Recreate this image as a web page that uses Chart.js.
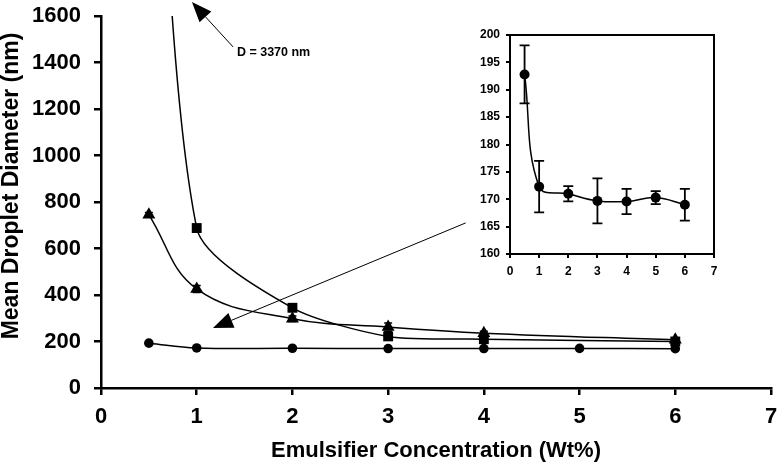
<!DOCTYPE html>
<html>
<head>
<meta charset="utf-8">
<script src="https://cdn.jsdelivr.net/npm/chart.js@4.4.0/dist/chart.umd.min.js"></script>
<style>
  html, body { margin: 0; padding: 0; background: #fff; }
  #wrap { position: relative; width: 779px; height: 464px; }
  #main { position: absolute; left: 0; top: 0; }
  #inset { position: absolute; left: 455px; top: 20px; }
</style>
</head>
<body>
<div id="wrap">
  <canvas id="main" width="779" height="464"></canvas>
  <canvas id="inset" width="280" height="270"></canvas>
</div>
<script>
// ============================================
// Mean droplet diameter vs emulsifier concentration
// main plot + zoomed inset for the lowest series
// ============================================

const FONT = "'Liberation Sans', Arial, sans-serif";

// concentrations (Wt%)
const concAll = [0.5, 1, 2, 3, 4, 5, 6];
const concMain = [0.5, 1, 2, 3, 4, 6];

// circles (also shown in the inset)
const circleSize = [192.8, 172.3, 171.0, 169.7, 169.6, 170.3, 169.0];
const circleErr = [5.3, 4.7, 1.4, 4.1, 2.3, 1.2, 2.9];

// squares (first point is 3370 nm, off the scale)
const squareSize = [3370, 688, 345, 222, 210, 200];
const squareErr = [0, 12, 12, 10, 6, 6];

// triangles
const triangleSize = [745, 426, 298, 262, 236, 207];
const triangleErr = [10, 15, 12, 18, 8, 8];

// tick values
const mainXTicks = [0, 1, 2, 3, 4, 5, 6, 7];
const mainYTicks = [0, 200, 400, 600, 800, 1000, 1200, 1400, 1600];
const insetYTicks = [160, 165, 170, 175, 180, 185, 190, 195, 200];

const xTitle = 'Emulsifier Concentration (Wt%)';
const yTitle = 'Mean Droplet Diameter (nm)';

// annotation arrows (data units of the main plot)
const arrows = [
  { from: [1.38, 1467], to: [0.95, 1660] },
  { from: [3.81, 710], to: [1.17, 258] }
];
const noteText = 'D = 3370 nm';
const notePos = [1.42, 1441];

function pts(xs, ys) {
  return xs.map((x, i) => ({ x: x, y: ys[i] }));
}

// draws vertical error bars with caps
const errorBars = {
  id: 'errorBars',
  afterDatasetsDraw(chart) {
    const ctx = chart.ctx;
    const xs = chart.scales.x, ys = chart.scales.y;
    const area = chart.chartArea;
    ctx.save();
    ctx.beginPath();
    ctx.rect(area.left, area.top, area.right - area.left, area.bottom - area.top);
    ctx.clip();
    chart.data.datasets.forEach(ds => {
      if (!ds.errors) return;
      ctx.strokeStyle = '#000';
      ctx.lineWidth = ds.errWidth || 1.5;
      const cap = ds.capHalf || 4;
      ds.data.forEach((p, i) => {
        const e = ds.errors[i];
        if (!e) return;
        const px = xs.getPixelForValue(p.x);
        const top = ys.getPixelForValue(p.y + e);
        const bot = ys.getPixelForValue(p.y - e);
        ctx.beginPath();
        ctx.moveTo(px, top); ctx.lineTo(px, bot);
        ctx.moveTo(px - cap, top); ctx.lineTo(px + cap, top);
        ctx.moveTo(px - cap, bot); ctx.lineTo(px + cap, bot);
        ctx.stroke();
      });
    });
    ctx.restore();
  }
};

// arrows, the "D = 3370 nm" note and the y title (sits a bit above centre)
const annotations = {
  id: 'annotations',
  afterDraw(chart) {
    const ctx = chart.ctx;
    const xs = chart.scales.x, ys = chart.scales.y;
    ctx.save();
    ctx.strokeStyle = '#000';
    ctx.fillStyle = '#000';
    ctx.lineWidth = 1;
    arrows.forEach(a => {
      const x1 = xs.getPixelForValue(a.from[0]), y1 = ys.getPixelForValue(a.from[1]);
      const x2 = xs.getPixelForValue(a.to[0]), y2 = ys.getPixelForValue(a.to[1]);
      const ang = Math.atan2(y2 - y1, x2 - x1);
      const len = 20, half = 8;
      const bx = x2 - len * Math.cos(ang), by = y2 - len * Math.sin(ang);
      ctx.beginPath();
      ctx.moveTo(x1, y1); ctx.lineTo(bx, by);
      ctx.stroke();
      ctx.beginPath();
      ctx.moveTo(x2, y2);
      ctx.lineTo(bx + half * Math.sin(ang), by - half * Math.cos(ang));
      ctx.lineTo(bx - half * Math.sin(ang), by + half * Math.cos(ang));
      ctx.closePath();
      ctx.fill();
    });
    ctx.font = 'bold 12.5px ' + FONT;
    ctx.textAlign = 'left';
    ctx.textBaseline = 'middle';
    ctx.fillText(noteText, xs.getPixelForValue(notePos[0]), ys.getPixelForValue(notePos[1]));

    ctx.translate(12, 186);
    ctx.rotate(-Math.PI / 2);
    ctx.font = 'bold 23px ' + FONT;
    ctx.textAlign = 'center';
    ctx.fillText(yTitle, 0, 0);
    ctx.restore();
  }
};

// box around the inset plot
const frame = {
  id: 'frame',
  afterDraw(chart) {
    const a = chart.chartArea, ctx = chart.ctx;
    ctx.save();
    ctx.strokeStyle = '#000';
    ctx.lineWidth = 2;
    ctx.strokeRect(a.left, a.top, a.right - a.left, a.bottom - a.top);
    ctx.restore();
  }
};

function lineSet(data, style, radius, errors, tension) {
  return {
    data: data,
    errors: errors,
    borderColor: '#000',
    backgroundColor: '#000',
    borderWidth: 1.5,
    pointStyle: style,
    pointRadius: radius,
    pointBorderWidth: 0,
    tension: tension,
    fill: false
  };
}

function axis(min, max, ticks, size, tickLen, pad, w) {
  return {
    type: 'linear',
    min: min,
    max: max,
    afterBuildTicks: s => { s.ticks = ticks.map(v => ({ value: v })); },
    ticks: { color: '#000', font: { family: FONT, size: size, weight: 'bold' }, padding: pad,
      callback: v => String(v) },
    grid: { drawOnChartArea: false, drawTicks: true, tickLength: tickLen, color: '#000', lineWidth: w },
    border: { color: '#000', width: w }
  };
}

// main chart
const mx = axis(0, 7, mainXTicks, 22, 7, 9, 2.5);
mx.title = { display: true, text: xTitle, color: '#000',
  font: { family: FONT, size: 22, weight: 'bold' }, padding: { top: 8, bottom: 0 } };
mx.afterFit = s => { s.height = 76; s.paddingRight = 0; s.paddingLeft = 0; };
const my = axis(0, 1600, mainYTicks, 22, 7, 13, 2.5);
my.afterFit = s => { s.width = 101; s.paddingTop = 0; s.paddingBottom = 0; };

new Chart(document.getElementById('main'), {
  type: 'line',
  data: {
    datasets: [
      lineSet(pts(concAll, circleSize), 'circle', 4.8, null, 0.4),
      lineSet(pts(concMain, squareSize), 'rect', 7, squareErr, 0.25),
      lineSet(pts(concMain, triangleSize), 'triangle', 7.5, triangleErr, 0.4)
    ]
  },
  options: {
    responsive: false,
    animation: false,
    layout: { padding: { top: 16, right: 8, left: 0, bottom: 0 } },
    plugins: { legend: { display: false }, tooltip: { enabled: false } },
    scales: { x: mx, y: my }
  },
  plugins: [errorBars, annotations]
});

// inset chart
const ix = axis(0, 7, mainXTicks, 12, 4, 6, 2);
ix.afterFit = s => { s.height = 36; s.paddingRight = 0; s.paddingLeft = 0; };
const iy = axis(160, 200, insetYTicks, 12, 4, 6, 2);
iy.afterFit = s => { s.width = 55; s.paddingTop = 0; s.paddingBottom = 0; };

const insetSet = lineSet(pts(concAll, circleSize), 'circle', 5, circleErr, 0.4);
insetSet.capHalf = 5;
insetSet.errWidth = 1.8;

new Chart(document.getElementById('inset'), {
  type: 'line',
  data: { datasets: [insetSet] },
  options: {
    responsive: false,
    animation: false,
    layout: { padding: { top: 15, right: 21, left: 0, bottom: 0 } },
    plugins: { legend: { display: false }, tooltip: { enabled: false } },
    scales: { x: ix, y: iy }
  },
  plugins: [errorBars, frame]
});
</script>
</body>
</html>
